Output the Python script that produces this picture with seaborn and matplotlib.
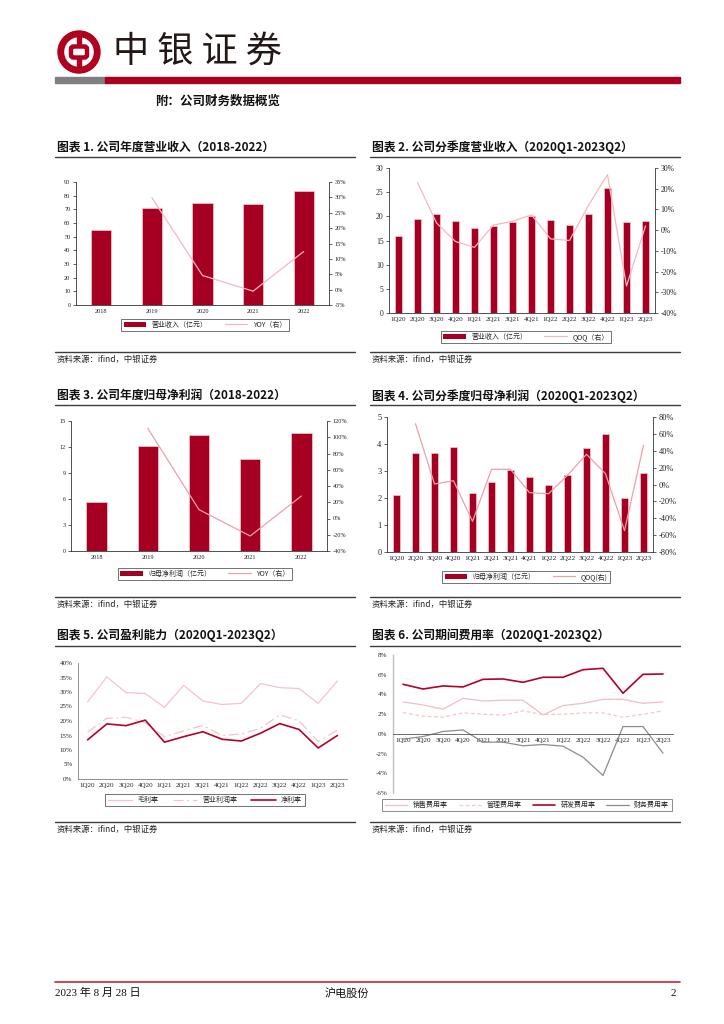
import numpy as np
import pandas as pd
import matplotlib.pyplot as plt
import seaborn as sns
from matplotlib.patches import Patch, Wedge, Rectangle, FancyBboxPatch
from matplotlib.lines import Line2D
from matplotlib.ticker import FuncFormatter, MultipleLocator

# ---- data ----
years = ['2018', '2019', '2020', '2021', '2022']
quarters = ['1Q20', '2Q20', '3Q20', '4Q20', '1Q21', '2Q21', '3Q21', '4Q21',
            '1Q22', '2Q22', '3Q22', '4Q22', '1Q23', '2Q23']

rev_year = [54.6, 71.3, 74.6, 74.2, 83.4]
rev_yoy = [np.nan, 29.9, 4.6, -0.5, 12.4]

rev_q = [15.9, 19.5, 20.4, 19.1, 17.5, 18.0, 18.8, 20.1, 19.3, 18.2, 20.4, 25.8, 18.8, 19.1]
rev_qoq = [np.nan, 23.0, 3.5, -5.5, -8.3, 2.5, 4.2, 7.4, -4.2, -5.0, 12.0, 26.8, -27.0, 2.0]

np_year = [5.65, 12.08, 13.35, 10.65, 13.58]
np_yoy = [np.nan, 111.0, 10.9, -21.5, 27.7]

np_q = [2.12, 3.68, 3.68, 3.88, 2.20, 2.58, 3.05, 2.78, 2.48, 2.84, 3.86, 4.38, 1.99, 2.91]
np_qoq = [np.nan, 72.0, 0.6, 4.5, -43.7, 18.0, 18.0, -9.7, -10.9, 10.9, 35.8, 12.8, -54.7, 46.4]

gross_margin = [26.6, 35.2, 29.8, 29.5, 24.7, 32.3, 26.9, 25.7, 26.1, 32.9, 31.5, 31.2, 26.1, 33.8]
op_margin = [16.2, 20.9, 21.3, 19.4, 14.6, 16.6, 18.5, 15.0, 15.5, 17.5, 22.1, 20.1, 12.9, 16.9]
net_margin = [13.5, 19.0, 18.4, 20.3, 12.7, 14.6, 16.3, 13.7, 13.1, 15.8, 19.1, 17.1, 10.7, 15.0]

sales_ratio = [3.24, 2.94, 2.50, 3.60, 3.34, 3.41, 3.41, 1.92, 2.87, 3.10, 3.50, 3.50, 3.10, 3.24]
admin_ratio = [2.16, 1.79, 1.69, 2.13, 1.99, 1.89, 2.33, 1.96, 1.99, 2.13, 2.13, 1.69, 1.99, 2.33]
rd_ratio = [5.03, 4.55, 4.86, 4.76, 5.53, 5.57, 5.23, 5.74, 5.74, 6.51, 6.65, 4.12, 6.04, 6.07]
fin_ratio = [-0.54, -0.27, 0.24, 0.40, -0.84, -0.84, -1.21, -1.08, -1.25, -2.36, -4.22, 0.74, 0.74, -1.96]

# ---- style ----
sns.set_theme(style='white')
plt.rcParams['font.family'] = ['Liberation Serif', 'Noto Sans CJK SC']
plt.rcParams['axes.unicode_minus'] = False

RED = '#A50021'
PINK = '#F4B8C1'
SALMON = '#EE9FA8'
DARKRED = '#B4002A'
GRAY = '#8C8C8C'
CJK = ['Noto Sans CJK SC', 'DejaVu Sans']

W, H = 724, 1024
fig = plt.figure(figsize=(W / 100, H / 100), dpi=100)


def px_axes(l, t, r, b):
    return fig.add_axes([l / W, 1 - b / H, (r - l) / W, (b - t) / H])


def fx(x):
    return x / W


def fy(y):
    return 1 - y / H


def hline(y, x0, x1, color='#3C3C3C', lw=1.0):
    fig.add_artist(Line2D([fx(x0), fx(x1)], [fy(y), fy(y)], color=color, lw=lw))


pct = FuncFormatter(lambda v, _: f'{v:.0f}%')


def style_axes(ax, fs):
    for s in ['top', 'right']:
        ax.spines[s].set_visible(False)
    for s in ['left', 'bottom']:
        ax.spines[s].set_color('#333333')
        ax.spines[s].set_linewidth(0.6)
    ax.tick_params(axis='both', labelsize=fs, colors='#222222', length=2, width=0.5,
                   direction='out', pad=2)
    ax.tick_params(axis='x', length=0, pad=3)
    ax.set_xlabel('')
    ax.set_ylabel('')
    ax.grid(False)


def bar_line_chart(box, cats, bars, line, line_color, ymax, ystep, rlim, rstep,
                   fs_y, fs_x, legend_labels, legend_xy):
    ax = px_axes(*box)
    df = pd.DataFrame({'cat': cats, 'val': bars})
    sns.barplot(data=df, x='cat', y='val', ax=ax, color=RED, width=0.4,
                saturation=1, edgecolor='#F3C9CF', linewidth=0.5)
    n = len(cats)
    ax.set_xlim(-0.5, n - 0.5)
    ax.set_ylim(0, ymax)
    ax.yaxis.set_major_locator(MultipleLocator(ystep))
    style_axes(ax, fs_y)
    ax.tick_params(axis='x', labelsize=fs_x)
    ax.set_xticks(np.arange(n) + 0.5, minor=True)
    ax.tick_params(axis='x', which='minor', length=2, width=0.5, color='#333333')
    ax2 = ax.twinx()
    sns.lineplot(x=np.arange(n), y=line, ax=ax2, color=line_color, lw=0.9)
    ax2.set_xlim(-0.5, n - 0.5)
    ax2.set_ylim(*rlim)
    ax2.yaxis.set_major_locator(MultipleLocator(rstep))
    ax2.yaxis.set_major_formatter(pct)
    for s in ['top', 'left', 'bottom']:
        ax2.spines[s].set_visible(False)
    ax2.spines['right'].set_color('#333333')
    ax2.spines['right'].set_linewidth(0.6)
    ax2.tick_params(axis='y', labelsize=fs_y, colors='#222222', length=2, width=0.5, pad=2)
    ax2.set_ylabel('')
    ax2.grid(False)
    handles = [Patch(facecolor=RED, edgecolor='none'),
               Line2D([], [], color=line_color, lw=0.9)]
    leg = ax.legend(handles, legend_labels, loc='center',
                    bbox_to_anchor=(fx(legend_xy[0]), fy(legend_xy[1])),
                    bbox_transform=fig.transFigure, ncol=2, frameon=True, fancybox=False,
                    edgecolor='#333333', handlelength=3.2, handleheight=0.9,
                    columnspacing=2.5, borderpad=0.35, prop={'family': CJK, 'size': 5})
    leg.get_frame().set_linewidth(0.6)
    return ax, ax2


# ---- header ----
logo = px_axes(54, 28, 104, 76)
logo.set_xlim(54, 104)
logo.set_ylim(76, 28)
logo.set_aspect('equal')
logo.axis('off')
cx, cy = 79, 52
logo.add_patch(Wedge((cx, cy), 21, 0, 360, width=5.5, color='#B0001E'))
logo.add_patch(Rectangle((cx - 2.2, cy - 17), 4.4, 34, color='#B0001E'))
logo.add_patch(FancyBboxPatch((cx - 8, cy - 5.5), 16, 11, boxstyle='round,pad=0,rounding_size=2.5',
                              facecolor='white', edgecolor='#B0001E', lw=3.2))
fig.text(fx(113), fy(52), '中 银 证 券', fontsize=26, color='#231815', va='center', ha='left',
         family=CJK)
fig.add_artist(Rectangle((fx(55), fy(83)), fx(50), 6 / H, color='#7F7F7F'))
fig.add_artist(Rectangle((fx(105), fy(83)), fx(575), 6 / H, color='#A8001E'))
fig.text(fx(155), fy(101), '附：公司财务数据概览', fontsize=9, fontweight='bold',
         family=CJK, va='center', ha='left', color='#111111')

# ---- section titles, rules, sources ----
titles = [
    (57, 147, '图表 1. 公司年度营业收入（2018-2022）'),
    (372, 147, '图表 2. 公司分季度营业收入（2020Q1-2023Q2）'),
    (57, 396, '图表 3. 公司年度归母净利润（2018-2022）'),
    (372, 396, '图表 4. 公司分季度归母净利润（2020Q1-2023Q2）'),
    (57, 635, '图表 5. 公司盈利能力（2020Q1-2023Q2）'),
    (372, 635, '图表 6. 公司期间费用率（2020Q1-2023Q2）'),
]
for x, y, t in titles:
    fig.text(fx(x), fy(y), t, fontsize=8.5, fontweight='bold', family=CJK,
             va='center', ha='left', color='#111111')
for y in [157, 405, 646]:
    hline(y, 55, 355)
    hline(y, 370, 680)
for y in [352, 597, 822]:
    hline(y, 55, 355)
    hline(y, 370, 680)
    fig.text(fx(57), fy(y + 7), '资料来源：ifind，中银证券', fontsize=6, style='italic',
             family=CJK, va='center', ha='left', color='#222222')
    fig.text(fx(372), fy(y + 7), '资料来源：ifind，中银证券', fontsize=6, style='italic',
             family=CJK, va='center', ha='left', color='#222222')

# ---- chart 1 ----
bar_line_chart((76, 182, 329, 305), years, rev_year, rev_yoy, PINK, 90, 10, (-5, 35), 5,
               4.5, 4.5, ['营业收入（亿元）', 'YOY（右）'], (205, 325))
# ---- chart 2 ----
bar_line_chart((389, 168, 655, 313), quarters, rev_q, rev_qoq, PINK, 30, 5, (-40, 30), 10,
               5.5, 5.0, ['营业收入（亿元）', 'QOQ（右）'], (526, 337))
# ---- chart 3 ----
bar_line_chart((71, 421, 327, 551), years, np_year, np_yoy, SALMON, 15, 3, (-40, 120), 20,
               4.5, 4.5, ['归母净利润（亿元）', 'YOY（右）'], (205, 574))
# ---- chart 4 ----
bar_line_chart((387, 417, 653, 552), quarters, np_q, np_qoq, SALMON, 5, 1, (-80, 80), 20,
               6, 5.4, ['归母净利润（亿元）', 'QOQ(右)'], (526, 577))

# ---- chart 5 ----
ax5 = px_axes(78, 663, 347, 779)
x = np.arange(len(quarters))
sns.lineplot(x=x, y=gross_margin, ax=ax5, color='#F6C2CA', lw=0.9)
sns.lineplot(x=x, y=op_margin, ax=ax5, color='#F6C2CA', lw=0.9)
ax5.lines[-1].set_linestyle((0, (8, 3, 1.5, 3)))
sns.lineplot(x=x, y=net_margin, ax=ax5, color=DARKRED, lw=1.2)
ax5.set_xlim(-0.5, len(quarters) - 0.5)
ax5.set_ylim(0, 40)
ax5.yaxis.set_major_locator(MultipleLocator(5))
ax5.yaxis.set_major_formatter(pct)
ax5.set_xticks(x)
ax5.set_xticklabels(quarters)
style_axes(ax5, 5)
ax5.spines['left'].set_color('#7F7F7F')
ax5.spines['bottom'].set_color('#7F7F7F')
ax5.set_xticks(x + 0.5, minor=True)
ax5.tick_params(axis='x', which='minor', length=2, width=0.5, color='#7F7F7F')
h5 = [Line2D([], [], color='#F6C2CA', lw=0.9),
      Line2D([], [], color='#F6C2CA', lw=0.9, ls=(0, (8, 3, 1.5, 3))),
      Line2D([], [], color=DARKRED, lw=1.2)]
leg5 = ax5.legend(h5, ['毛利率', '营业利润率', '净利率'], loc='center',
                  bbox_to_anchor=(fx(205), fy(800)), bbox_transform=fig.transFigure, ncol=3,
                  frameon=True, fancybox=False, edgecolor='#333333', handlelength=3.5,
                  columnspacing=2.0, borderpad=0.35, prop={'family': CJK, 'size': 5})
leg5.get_frame().set_linewidth(0.6)

# ---- chart 6 ----
ax6 = px_axes(393, 655, 673, 793)
sns.lineplot(x=x, y=sales_ratio, ax=ax6, color='#F4BCC5', lw=0.9)
sns.lineplot(x=x, y=admin_ratio, ax=ax6, color='#F6C6CD', lw=0.9)
ax6.lines[-1].set_linestyle((0, (3, 2)))
sns.lineplot(x=x, y=rd_ratio, ax=ax6, color=DARKRED, lw=1.2)
sns.lineplot(x=x, y=fin_ratio, ax=ax6, color=GRAY, lw=0.9)
ax6.set_xlim(-0.5, len(quarters) - 0.5)
ax6.set_ylim(-6, 8)
ax6.yaxis.set_major_locator(MultipleLocator(2))
ax6.yaxis.set_major_formatter(pct)
ax6.set_xticks(x)
ax6.set_xticklabels(quarters)
style_axes(ax6, 5)
ax6.spines['bottom'].set_position(('data', 0))
ax6.spines['bottom'].set_color('#555555')
ax6.spines['left'].set_color('#BFBFBF')
ax6.spines['left'].set_linewidth(1.0)
ax6.set_xticks(x + 0.5, minor=True)
ax6.tick_params(axis='x', which='minor', length=2, width=0.5, color='#555555')
h6 = [Line2D([], [], color='#F4BCC5', lw=0.9),
      Line2D([], [], color='#F6C6CD', lw=0.9, ls=(0, (3, 2))),
      Line2D([], [], color=DARKRED, lw=1.2),
      Line2D([], [], color=GRAY, lw=0.9)]
leg6 = ax6.legend(h6, ['销售费用率', '管理费用率', '研发费用率', '财务费用率'], loc='center',
                  bbox_to_anchor=(fx(527), fy(805)), bbox_transform=fig.transFigure, ncol=4,
                  frameon=True, fancybox=False, edgecolor='#555555', handlelength=3.2,
                  columnspacing=1.6, borderpad=0.35, prop={'family': CJK, 'size': 5})
leg6.get_frame().set_linewidth(0.6)

# ---- footer ----
hline(982, 55, 680, color='#C0283A', lw=1.2)
fig.text(fx(55), fy(993), '2023 年 8 月 28 日', fontsize=8, family=['Liberation Serif', 'Noto Sans CJK SC'],
         va='center', ha='left', color='#111111')
fig.text(fx(347), fy(993), '沪电股份', fontsize=8, family=CJK, va='center', ha='center',
         color='#111111')
fig.text(fx(676), fy(993), '2', fontsize=8, va='center', ha='right', color='#111111')

fig.savefig('out.png', dpi=100)
